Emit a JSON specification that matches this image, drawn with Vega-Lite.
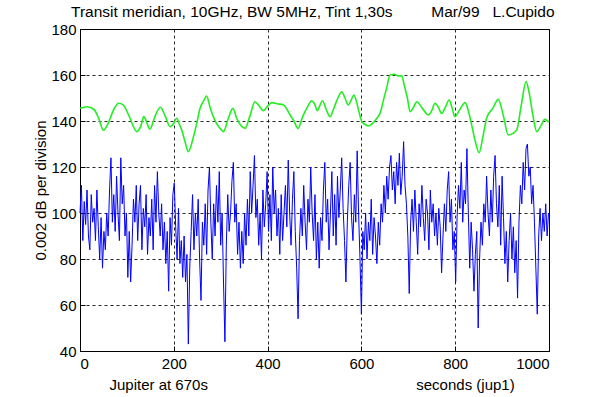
{
  "$schema": "https://vega.github.io/schema/vega-lite/v6.json",
  "width": 469,
  "height": 322,
  "autosize": {"type": "none"},
  "padding": {"left": 80, "top": 29, "right": 59, "bottom": 46},
  "background": "white",
  "title": {
    "text": "Transit meridian, 10GHz, BW 5MHz, Tint 1,30s\u00a0\u00a0\u00a0\u00a0\u00a0\u00a0\u00a0\u00a0\u00a0Mar/99\u00a0\u00a0\u00a0L.Cupido",
    "anchor": "start",
    "frame": "group",
    "dx": -9,
    "offset": 2,
    "font": "Liberation Sans",
    "fontSize": 15.5,
    "fontWeight": "normal",
    "color": "black"
  },
  "config": {
    "view": {"stroke": "black", "strokeWidth": 1},
    "axis": {
      "domain": false,
      "grid": true,
      "gridColor": "#000000",
      "gridDash": [3, 3],
      "gridOpacity": 0.85,
      "gridWidth": 1,
      "tickColor": "#000000",
      "tickSize": -5,
      "labelFont": "Liberation Sans",
      "labelFontSize": 15,
      "labelColor": "black",
      "titleFont": "Liberation Sans",
      "titleFontSize": 15,
      "titleFontWeight": "normal",
      "titleColor": "black",
      "zindex": 1
    }
  },
  "datasets": {
    "green": [
      {"t":0,"v":145.5},{"t":15,"v":146.2},{"t":30,"v":145},{"t":40,"v":141},{"t":50,"v":136},{"t":60,"v":139},{"t":72,"v":145},{"t":82,"v":147.7},{"t":92,"v":147},{"t":105,"v":142},{"t":121,"v":135.4},{"t":130,"v":138},{"t":136,"v":141.9},{"t":143,"v":139},{"t":149,"v":136.4},{"t":160,"v":142},{"t":171,"v":146},{"t":182,"v":142},{"t":192,"v":137.5},{"t":200,"v":139},{"t":206,"v":141.2},{"t":212,"v":138.5},{"t":217,"v":136},{"t":224,"v":131},{"t":231,"v":126.7},{"t":242,"v":133.2},{"t":250,"v":140},{"t":256,"v":145.5},{"t":263,"v":148.5},{"t":270,"v":150.9},{"t":277,"v":146.2},{"t":284,"v":142},{"t":291,"v":139},{"t":298,"v":137},{"t":306,"v":135.4},{"t":316,"v":141},{"t":326,"v":145.5},{"t":334,"v":141.2},{"t":343,"v":138},{"t":352,"v":136.8},{"t":362,"v":142},{"t":373,"v":148.4},{"t":382,"v":146.5},{"t":391,"v":144.5},{"t":400,"v":146.5},{"t":409,"v":148},{"t":420,"v":147.5},{"t":434,"v":147},{"t":448,"v":142.6},{"t":456,"v":140},{"t":465,"v":136.8},{"t":475,"v":142},{"t":486,"v":146.5},{"t":494,"v":148.8},{"t":500,"v":147.5},{"t":506,"v":144.5},{"t":512,"v":147},{"t":517,"v":148.8},{"t":525,"v":145},{"t":533,"v":141.9},{"t":542,"v":146},{"t":550,"v":150},{"t":558,"v":152.7},{"t":565,"v":150},{"t":572,"v":147},{"t":578,"v":149},{"t":584,"v":151.3},{"t":590,"v":148},{"t":596,"v":143},{"t":601,"v":139.7},{"t":608,"v":138.5},{"t":615,"v":137.8},{"t":624,"v":139},{"t":633,"v":141.2},{"t":641,"v":144},{"t":647,"v":149.1},{"t":654,"v":154.5},{"t":661,"v":160},{"t":670,"v":160.3},{"t":679,"v":159.6},{"t":686,"v":159.6},{"t":692,"v":155},{"t":698,"v":150},{"t":704,"v":144},{"t":711,"v":146},{"t":718,"v":148.4},{"t":730,"v":145.5},{"t":743,"v":142.6},{"t":750,"v":144.5},{"t":757,"v":147.7},{"t":764,"v":146},{"t":771,"v":143.3},{"t":779,"v":146},{"t":787,"v":149.1},{"t":793,"v":146},{"t":799,"v":141.9},{"t":810,"v":145},{"t":821,"v":148},{"t":828,"v":144.5},{"t":835,"v":138.3},{"t":843,"v":131},{"t":851,"v":126.2},{"t":859,"v":133},{"t":867,"v":141.2},{"t":880,"v":145.5},{"t":892,"v":149.4},{"t":903,"v":142},{"t":913,"v":133.9},{"t":922,"v":134.5},{"t":931,"v":136},{"t":941,"v":147},{"t":951,"v":157.1},{"t":958,"v":152},{"t":966,"v":142},{"t":974,"v":135.4},{"t":983,"v":138},{"t":991,"v":140.7},{"t":1000,"v":139.5}
    ],
    "blue": [
      {"t":0,"v":100},{"t":3,"v":112},{"t":6,"v":88},{"t":9,"v":105},{"t":12,"v":95},{"t":15,"v":110},{"t":18,"v":90},{"t":21,"v":84},{"t":24,"v":108},{"t":27,"v":96},{"t":30,"v":102},{"t":33,"v":88},{"t":36,"v":110},{"t":39,"v":94},{"t":42,"v":80},{"t":45,"v":98},{"t":48,"v":76},{"t":51,"v":92},{"t":54,"v":84},{"t":57,"v":100},{"t":60,"v":90},{"t":63,"v":110},{"t":66,"v":124},{"t":69,"v":96},{"t":72,"v":108},{"t":75,"v":92},{"t":78,"v":116},{"t":81,"v":100},{"t":84,"v":88},{"t":87,"v":124},{"t":90,"v":104},{"t":93,"v":112},{"t":96,"v":90},{"t":99,"v":100},{"t":102,"v":72},{"t":105,"v":92},{"t":108,"v":70},{"t":111,"v":86},{"t":114,"v":106},{"t":117,"v":96},{"t":120,"v":112},{"t":123,"v":88},{"t":126,"v":104},{"t":129,"v":112},{"t":132,"v":84},{"t":135,"v":102},{"t":138,"v":94},{"t":141,"v":108},{"t":144,"v":82},{"t":147,"v":98},{"t":150,"v":90},{"t":153,"v":106},{"t":156,"v":84},{"t":159,"v":112},{"t":162,"v":96},{"t":165,"v":118},{"t":168,"v":100},{"t":171,"v":90},{"t":174,"v":104},{"t":177,"v":84},{"t":180,"v":96},{"t":183,"v":78},{"t":186,"v":92},{"t":189,"v":66},{"t":192,"v":98},{"t":195,"v":86},{"t":198,"v":108},{"t":201,"v":113},{"t":204,"v":94},{"t":207,"v":80},{"t":210,"v":102},{"t":213,"v":78},{"t":216,"v":88},{"t":219,"v":72},{"t":222,"v":90},{"t":225,"v":70},{"t":228,"v":82},{"t":231,"v":43},{"t":234,"v":76},{"t":237,"v":92},{"t":240,"v":108},{"t":243,"v":84},{"t":246,"v":100},{"t":249,"v":90},{"t":252,"v":106},{"t":255,"v":80},{"t":258,"v":62},{"t":261,"v":96},{"t":264,"v":86},{"t":267,"v":104},{"t":270,"v":82},{"t":273,"v":110},{"t":276,"v":120},{"t":279,"v":96},{"t":282,"v":80},{"t":285,"v":104},{"t":288,"v":90},{"t":291,"v":112},{"t":294,"v":96},{"t":297,"v":118},{"t":300,"v":86},{"t":303,"v":100},{"t":306,"v":70},{"t":309,"v":44},{"t":312,"v":86},{"t":315,"v":108},{"t":318,"v":92},{"t":321,"v":100},{"t":324,"v":114},{"t":327,"v":122},{"t":330,"v":96},{"t":333,"v":104},{"t":336,"v":82},{"t":339,"v":96},{"t":342,"v":76},{"t":345,"v":92},{"t":348,"v":78},{"t":351,"v":100},{"t":354,"v":86},{"t":357,"v":106},{"t":360,"v":90},{"t":363,"v":118},{"t":366,"v":100},{"t":369,"v":112},{"t":372,"v":125},{"t":375,"v":98},{"t":378,"v":106},{"t":381,"v":86},{"t":384,"v":100},{"t":387,"v":80},{"t":390,"v":110},{"t":393,"v":94},{"t":396,"v":104},{"t":399,"v":118},{"t":402,"v":92},{"t":405,"v":108},{"t":408,"v":88},{"t":411,"v":120},{"t":414,"v":100},{"t":417,"v":110},{"t":420,"v":90},{"t":423,"v":102},{"t":426,"v":82},{"t":429,"v":108},{"t":432,"v":88},{"t":435,"v":100},{"t":438,"v":112},{"t":441,"v":94},{"t":444,"v":123},{"t":447,"v":100},{"t":450,"v":86},{"t":453,"v":106},{"t":456,"v":118},{"t":459,"v":92},{"t":462,"v":76},{"t":465,"v":54},{"t":468,"v":88},{"t":471,"v":102},{"t":474,"v":90},{"t":477,"v":112},{"t":480,"v":96},{"t":483,"v":84},{"t":486,"v":106},{"t":489,"v":96},{"t":492,"v":120},{"t":495,"v":100},{"t":498,"v":88},{"t":501,"v":108},{"t":504,"v":80},{"t":507,"v":96},{"t":510,"v":76},{"t":513,"v":98},{"t":516,"v":88},{"t":519,"v":110},{"t":522,"v":122},{"t":525,"v":96},{"t":528,"v":106},{"t":531,"v":84},{"t":534,"v":100},{"t":537,"v":118},{"t":540,"v":90},{"t":543,"v":108},{"t":546,"v":86},{"t":549,"v":116},{"t":552,"v":98},{"t":555,"v":110},{"t":558,"v":124},{"t":561,"v":102},{"t":564,"v":88},{"t":567,"v":70},{"t":570,"v":96},{"t":573,"v":112},{"t":576,"v":122},{"t":579,"v":98},{"t":582,"v":88},{"t":585,"v":108},{"t":588,"v":96},{"t":591,"v":127},{"t":594,"v":100},{"t":597,"v":80},{"t":600,"v":56},{"t":603,"v":92},{"t":606,"v":84},{"t":609,"v":100},{"t":612,"v":80},{"t":615,"v":96},{"t":618,"v":88},{"t":621,"v":106},{"t":624,"v":82},{"t":627,"v":98},{"t":630,"v":90},{"t":633,"v":78},{"t":636,"v":96},{"t":639,"v":86},{"t":642,"v":104},{"t":645,"v":96},{"t":648,"v":112},{"t":651,"v":100},{"t":654,"v":116},{"t":657,"v":106},{"t":660,"v":120},{"t":663,"v":125},{"t":666,"v":110},{"t":669,"v":118},{"t":672,"v":104},{"t":675,"v":122},{"t":678,"v":112},{"t":681,"v":126},{"t":684,"v":108},{"t":687,"v":116},{"t":690,"v":131},{"t":693,"v":112},{"t":696,"v":104},{"t":699,"v":90},{"t":702,"v":65},{"t":705,"v":96},{"t":708,"v":106},{"t":711,"v":92},{"t":714,"v":110},{"t":717,"v":96},{"t":720,"v":82},{"t":723,"v":104},{"t":726,"v":94},{"t":729,"v":112},{"t":732,"v":98},{"t":735,"v":88},{"t":738,"v":106},{"t":741,"v":100},{"t":744,"v":84},{"t":747,"v":110},{"t":750,"v":96},{"t":753,"v":104},{"t":756,"v":90},{"t":759,"v":100},{"t":762,"v":86},{"t":765,"v":102},{"t":768,"v":94},{"t":771,"v":74},{"t":774,"v":90},{"t":777,"v":104},{"t":780,"v":92},{"t":783,"v":110},{"t":786,"v":118},{"t":789,"v":96},{"t":792,"v":106},{"t":795,"v":84},{"t":798,"v":92},{"t":801,"v":70},{"t":804,"v":98},{"t":807,"v":112},{"t":810,"v":102},{"t":813,"v":122},{"t":816,"v":96},{"t":819,"v":110},{"t":822,"v":104},{"t":825,"v":128},{"t":828,"v":100},{"t":831,"v":76},{"t":834,"v":96},{"t":837,"v":84},{"t":840,"v":66},{"t":843,"v":82},{"t":846,"v":92},{"t":849,"v":50},{"t":852,"v":80},{"t":855,"v":96},{"t":858,"v":86},{"t":861,"v":104},{"t":864,"v":96},{"t":867,"v":116},{"t":870,"v":100},{"t":873,"v":90},{"t":876,"v":110},{"t":879,"v":96},{"t":882,"v":116},{"t":885,"v":125},{"t":888,"v":104},{"t":891,"v":94},{"t":894,"v":112},{"t":897,"v":86},{"t":900,"v":116},{"t":903,"v":98},{"t":906,"v":78},{"t":909,"v":92},{"t":912,"v":70},{"t":915,"v":88},{"t":918,"v":100},{"t":921,"v":80},{"t":924,"v":94},{"t":927,"v":74},{"t":930,"v":88},{"t":933,"v":63},{"t":936,"v":96},{"t":939,"v":112},{"t":942,"v":104},{"t":945,"v":122},{"t":948,"v":110},{"t":951,"v":128},{"t":954,"v":130},{"t":957,"v":116},{"t":960,"v":120},{"t":963,"v":104},{"t":966,"v":112},{"t":969,"v":96},{"t":972,"v":76},{"t":975,"v":56},{"t":978,"v":90},{"t":981,"v":102},{"t":984,"v":88},{"t":987,"v":100},{"t":990,"v":92},{"t":993,"v":104},{"t":996,"v":90},{"t":999,"v":100}
    ]
  },
  "encoding": {
    "x": {
      "field": "t",
      "type": "quantitative",
      "scale": {"domain": [0, 1000], "nice": false, "zero": false},
      "axis": {
        "values": [0, 200, 400, 600, 800, 1000],
        "format": "d",
        "title": "Jupiter at 670s\u00a0\u00a0\u00a0\u00a0\u00a0\u00a0\u00a0\u00a0\u00a0\u00a0\u00a0\u00a0\u00a0\u00a0\u00a0\u00a0\u00a0\u00a0\u00a0\u00a0\u00a0\u00a0\u00a0\u00a0\u00a0\u00a0\u00a0\u00a0\u00a0\u00a0\u00a0\u00a0\u00a0\u00a0\u00a0\u00a0\u00a0\u00a0\u00a0\u00a0\u00a0\u00a0\u00a0\u00a0\u00a0\u00a0\u00a0\u00a0\u00a0\u00a0seconds (jup1)",
        "titleAnchor": "start",
        "titleX": 29,
        "titleY": 38,
        "titleBaseline": "alphabetic",
        "labelPadding": 10
      }
    },
    "y": {
      "field": "v",
      "type": "quantitative",
      "scale": {"domain": [40, 180], "nice": false, "zero": false},
      "axis": {
        "values": [40, 60, 80, 100, 120, 140, 160, 180],
        "title": "0.002 dB per division",
        "titleX": -40,
        "titleY": 161,
        "titleAngle": -90,
        "titleBaseline": "middle",
        "titleAlign": "center",
        "labelPadding": 9
      }
    }
  },
  "layer": [
    {
      "data": {"name": "green"},
      "mark": {"type": "line", "color": "#22ee22", "strokeWidth": 1.6, "interpolate": "monotone"}
    },
    {
      "data": {"name": "blue"},
      "mark": {"type": "line", "color": "#0000ff", "strokeWidth": 1}
    }
  ]
}
